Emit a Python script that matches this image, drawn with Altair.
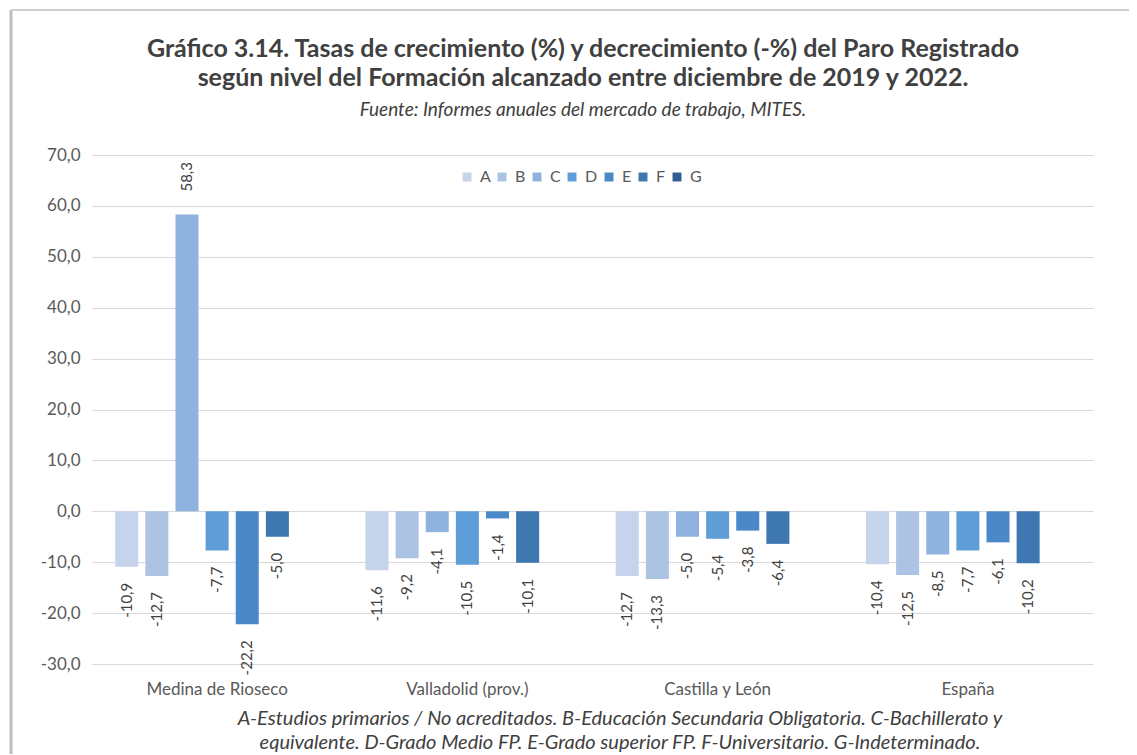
import altair as alt
import pandas as pd

grupos = ["Medina de Rioseco", "Valladolid (prov.)", "Castilla y León", "España"]
niveles = ["A", "B", "C", "D", "E", "F", "G"]
colores = ["#c5d4eb", "#acc3e4", "#8fb2de", "#5f9dd8", "#4a88c7", "#3f77b0", "#2f5e92"]

val_A = [-10.9, -11.6, -12.7, -10.4]
val_B = [-12.7, -9.2, -13.3, -12.5]
val_C = [58.3, -4.1, -5.0, -8.5]
val_D = [-7.7, -10.5, -5.4, -7.7]
val_E = [-22.2, -1.4, -3.8, -6.1]
val_F = [-5.0, -10.1, -6.4, -10.2]

y_ticks = [-30, -20, -10, 0, 10, 20, 30, 40, 50, 60, 70]

titulo = [
    "Gráfico 3.14. Tasas de crecimiento (%) y decrecimiento (-%) del Paro Registrado",
    "según nivel del Formación alcanzado entre diciembre de 2019 y 2022.",
]
fuente = "Fuente: Informes anuales del mercado de trabajo, MITES."
nota = [
    "A-Estudios primarios / No acreditados. B-Educación Secundaria Obligatoria. C-Bachillerato y",
    "equivalente. D-Grado Medio FP. E-Grado superior FP. F-Universitario. G-Indeterminado.",
]

series = {"A": val_A, "B": val_B, "C": val_C, "D": val_D, "E": val_E, "F": val_F}
rows = []
for nivel, vals in series.items():
    for g, v in zip(grupos, vals):
        rows.append({"grupo": g, "nivel": nivel, "valor": v})
df = pd.DataFrame(rows)

FONT = "Lato"
W, H = 1001, 509
FMT = "replace(replace(format({v}, '.1f'), '.', ','), '\u2212', '-')"

x_enc = alt.X("grupo:N", sort=grupos,
              scale=alt.Scale(paddingInner=0, paddingOuter=0),
              axis=alt.Axis(title=None, labelAngle=0, domain=False, ticks=False,
                            labelFontSize=17, labelColor="#595959", labelFont=FONT,
                            labelPadding=17, grid=False))
xo_enc = alt.XOffset("nivel:N", scale=alt.Scale(domain=niveles, paddingInner=0.236, paddingOuter=0.771))
y_scale = alt.Scale(domain=[-30, 70], nice=False)

base = alt.Chart(df)

bars = base.mark_bar().encode(
    x=x_enc,
    xOffset=xo_enc,
    y=alt.Y("valor:Q", scale=y_scale,
            axis=alt.Axis(title=None, values=y_ticks, domain=False, ticks=False,
                          labelExpr=FMT.format(v="datum.value"),
                          labelFontSize=17, labelColor="#595959", labelFont=FONT,
                          labelPadding=12, gridColor="#d9d9d9", gridWidth=1.2)),
    color=alt.Color("nivel:N", scale=alt.Scale(domain=niveles, range=colores),
                    legend=alt.Legend(title=None, orient="none", direction="horizontal",
                                      legendX=367, legendY=14, symbolType="square",
                                      symbolSize=80, symbolStrokeWidth=0,
                                      labelFontSize=16, labelColor="#595959", labelFont=FONT,
                                      labelOffset=5, columnPadding=3)),
)

lab = base.transform_calculate(etiqueta=FMT.format(v="datum.valor"))

labels_neg = lab.transform_filter("datum.valor < 0").mark_text(
    angle=270, align="right", baseline="middle", dx=-16,
    fontSize=15, font=FONT, color="#404040"
).encode(x=alt.X("grupo:N", sort=grupos), xOffset=alt.XOffset("nivel:N"),
         y=alt.Y("valor:Q"), text="etiqueta:N")

labels_pos = lab.transform_filter("datum.valor >= 0").mark_text(
    angle=270, align="left", baseline="middle", dx=23,
    fontSize=15, font=FONT, color="#404040"
).encode(x=alt.X("grupo:N", sort=grupos), xOffset=alt.XOffset("nivel:N"),
         y=alt.Y("valor:Q"), text="etiqueta:N")

one = pd.DataFrame({"k": [0]})

def texto(t, xv, yv, size, bold=False, italic=False, color="#404040"):
    return alt.Chart(one).mark_text(
        text=t, align="center", baseline="alphabetic", fontSize=size, font=FONT,
        fontWeight="bold" if bold else "normal",
        fontStyle="italic" if italic else "normal", color=color
    ).encode(x=alt.value(xv), y=alt.value(yv))

t1 = texto(titulo[0], 491, -98, 25, bold=True, color="#404040")
t2 = texto(titulo[1], 491, -69, 25, bold=True, color="#404040")
t3 = texto(fuente, 491, -39, 19, italic=True, color="#404040")
n1 = texto(nota[0], 528, 570, 20, italic=True, color="#404040")
n2 = texto(nota[1], 528, 594, 20, italic=True, color="#404040")

borde_izq = alt.Chart(one).mark_rule(color="#bdbdbd", strokeWidth=3).encode(
    x=alt.value(-81), y=alt.value(-145), y2=alt.value(610))
borde_sup = alt.Chart(one).mark_rule(color="#cfcfcf", strokeWidth=2).encode(
    x=alt.value(-81), x2=alt.value(1045), y=alt.value(-145))

chart = alt.layer(
    bars, labels_neg, labels_pos, t1, t2, t3, n1, n2, borde_izq, borde_sup
).properties(
    width=W, height=H,
    autosize=alt.AutoSizeParams(type="none"),
    padding={"left": 84, "top": 147, "right": 36, "bottom": 90},
    background="white",
).configure_view(stroke=None).resolve_scale(x="shared")

chart.save("out.html", embed_options={"renderer": "svg", "actions": False})
